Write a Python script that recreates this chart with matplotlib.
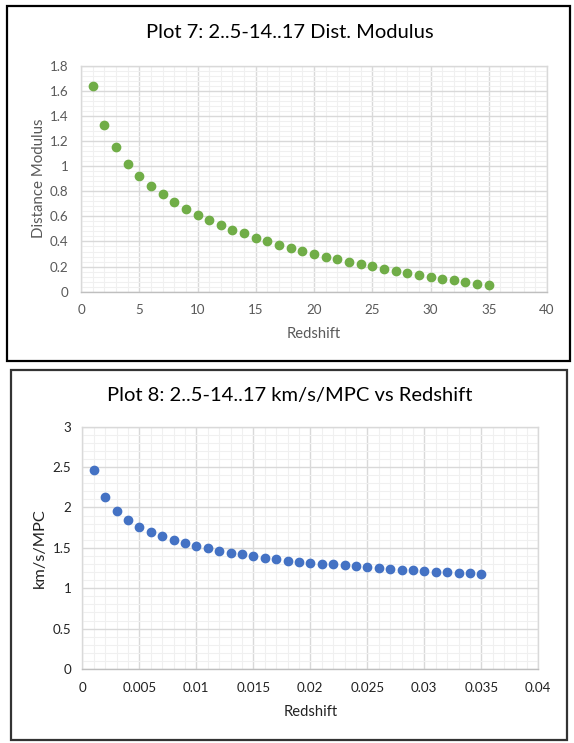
import matplotlib.pyplot as plt
from matplotlib.patches import Rectangle
from matplotlib.ticker import MultipleLocator

plt.rcParams['font.family'] = ['Lato', 'DejaVu Sans']

# plot 7 data
dm_redshift = [1, 2, 3, 4, 5, 6, 7, 8, 9, 10, 11, 12, 13, 14, 15, 16, 17, 18,
               19, 20, 21, 22, 23, 24, 25, 26, 27, 28, 29, 30, 31, 32, 33, 34, 35]
dist_modulus = [1.64, 1.33, 1.15, 1.02, 0.92, 0.844, 0.775, 0.714, 0.658, 0.613,
                0.568, 0.528, 0.494, 0.465, 0.430, 0.401, 0.374, 0.350, 0.326,
                0.300, 0.279, 0.260, 0.239, 0.218, 0.202, 0.183, 0.167, 0.149,
                0.133, 0.119, 0.104, 0.091, 0.075, 0.061, 0.051]
dm_xticks = [0, 5, 10, 15, 20, 25, 30, 35, 40]
dm_yticks = [0, 0.2, 0.4, 0.6, 0.8, 1, 1.2, 1.4, 1.6, 1.8]

# plot 8 data
h_redshift = [0.001, 0.002, 0.003, 0.004, 0.005, 0.006, 0.007, 0.008, 0.009, 0.010,
              0.011, 0.012, 0.013, 0.014, 0.015, 0.016, 0.017, 0.018, 0.019, 0.020,
              0.021, 0.022, 0.023, 0.024, 0.025, 0.026, 0.027, 0.028, 0.029, 0.030,
              0.031, 0.032, 0.033, 0.034, 0.035]
km_s_mpc = [2.46, 2.13, 1.955, 1.84, 1.761, 1.696, 1.644, 1.597, 1.558, 1.524,
            1.494, 1.466, 1.44, 1.419, 1.399, 1.376, 1.358, 1.342, 1.328, 1.316,
            1.306, 1.295, 1.283, 1.271, 1.259, 1.246, 1.238, 1.230, 1.222, 1.213,
            1.205, 1.197, 1.189, 1.185, 1.176]
h_xticks = [0, 0.005, 0.01, 0.015, 0.02, 0.025, 0.03, 0.035, 0.04]
h_yticks = [0, 0.5, 1, 1.5, 2, 2.5, 3]

fig = plt.figure(figsize=(5.74, 7.43), dpi=100)

# black frames round each chart
fig.patches.append(Rectangle((7 / 574, 1 - 361 / 743), 563 / 574, 355 / 743,
                             transform=fig.transFigure, fill=False,
                             edgecolor='black', linewidth=1.6))
fig.patches.append(Rectangle((11 / 574, 1 - 740 / 743), 556 / 574, 370 / 743,
                             transform=fig.transFigure, fill=False,
                             edgecolor='#333333', linewidth=1.6))


def style_axes(ax, xticks, yticks, xminor, yminor, label_color, xpad, ypad):
    ax.set_xlim(xticks[0], xticks[-1])
    ax.set_ylim(yticks[0], yticks[-1])
    ax.set_xticks(xticks)
    ax.set_yticks(yticks)
    ax.set_xticklabels(['{:g}'.format(t) for t in xticks])
    ax.set_yticklabels(['{:g}'.format(t) for t in yticks])
    ax.xaxis.set_minor_locator(MultipleLocator(xminor))
    ax.yaxis.set_minor_locator(MultipleLocator(yminor))
    ax.grid(which='major', color='#D9D9D9', linewidth=1.0)
    ax.grid(which='minor', color='#F0F0F0', linewidth=0.8)
    ax.set_axisbelow(True)
    for s in ax.spines.values():
        s.set_color('#D9D9D9')
        s.set_linewidth(1.0)
    ax.spines['bottom'].set_color('#BFBFBF')
    ax.tick_params(which='both', length=0, labelsize=9.6, labelcolor=label_color)
    ax.tick_params(axis='x', pad=xpad)
    ax.tick_params(axis='y', pad=ypad)


# plot 7
ax1 = fig.add_axes([81 / 574, 1 - 291.7 / 743, 466 / 574, 226 / 743])
ax1.plot(dm_redshift, dist_modulus, 'o', color='#70AD47', markersize=6)
style_axes(ax1, dm_xticks, dm_yticks, 1, 0.04, '#595959', 9, 9)
ax1.set_xlabel('Redshift', fontsize=10.6, color='#595959', labelpad=8)
ax1.set_ylabel('Distance Modulus', fontsize=10.8, color='#595959', labelpad=3)
fig.text(290 / 574, 1 - 33 / 743, 'Plot 7: 2..5-14..17 Dist. Modulus',
         ha='center', va='center', fontsize=14.5, color='black')

# plot 8
ax2 = fig.add_axes([82.3 / 574, 1 - 669 / 743, 456 / 574, 242.3 / 743])
ax2.plot(h_redshift, km_s_mpc, 'o', color='#4472C4', markersize=6)
style_axes(ax2, h_xticks, h_yticks, 0.001, 0.1, '#222222', 9.5, 8)
ax2.set_xlabel('Redshift', fontsize=10.6, color='#222222', labelpad=8)
ax2.set_ylabel('km/s/MPC', fontsize=11.8, color='#222222', labelpad=4)
fig.text(290 / 574, 1 - 395 / 743, 'Plot 8: 2..5-14..17 km/s/MPC vs Redshift',
         ha='center', va='center', fontsize=14.5, color='black')

fig.savefig('out.png', dpi=100)
